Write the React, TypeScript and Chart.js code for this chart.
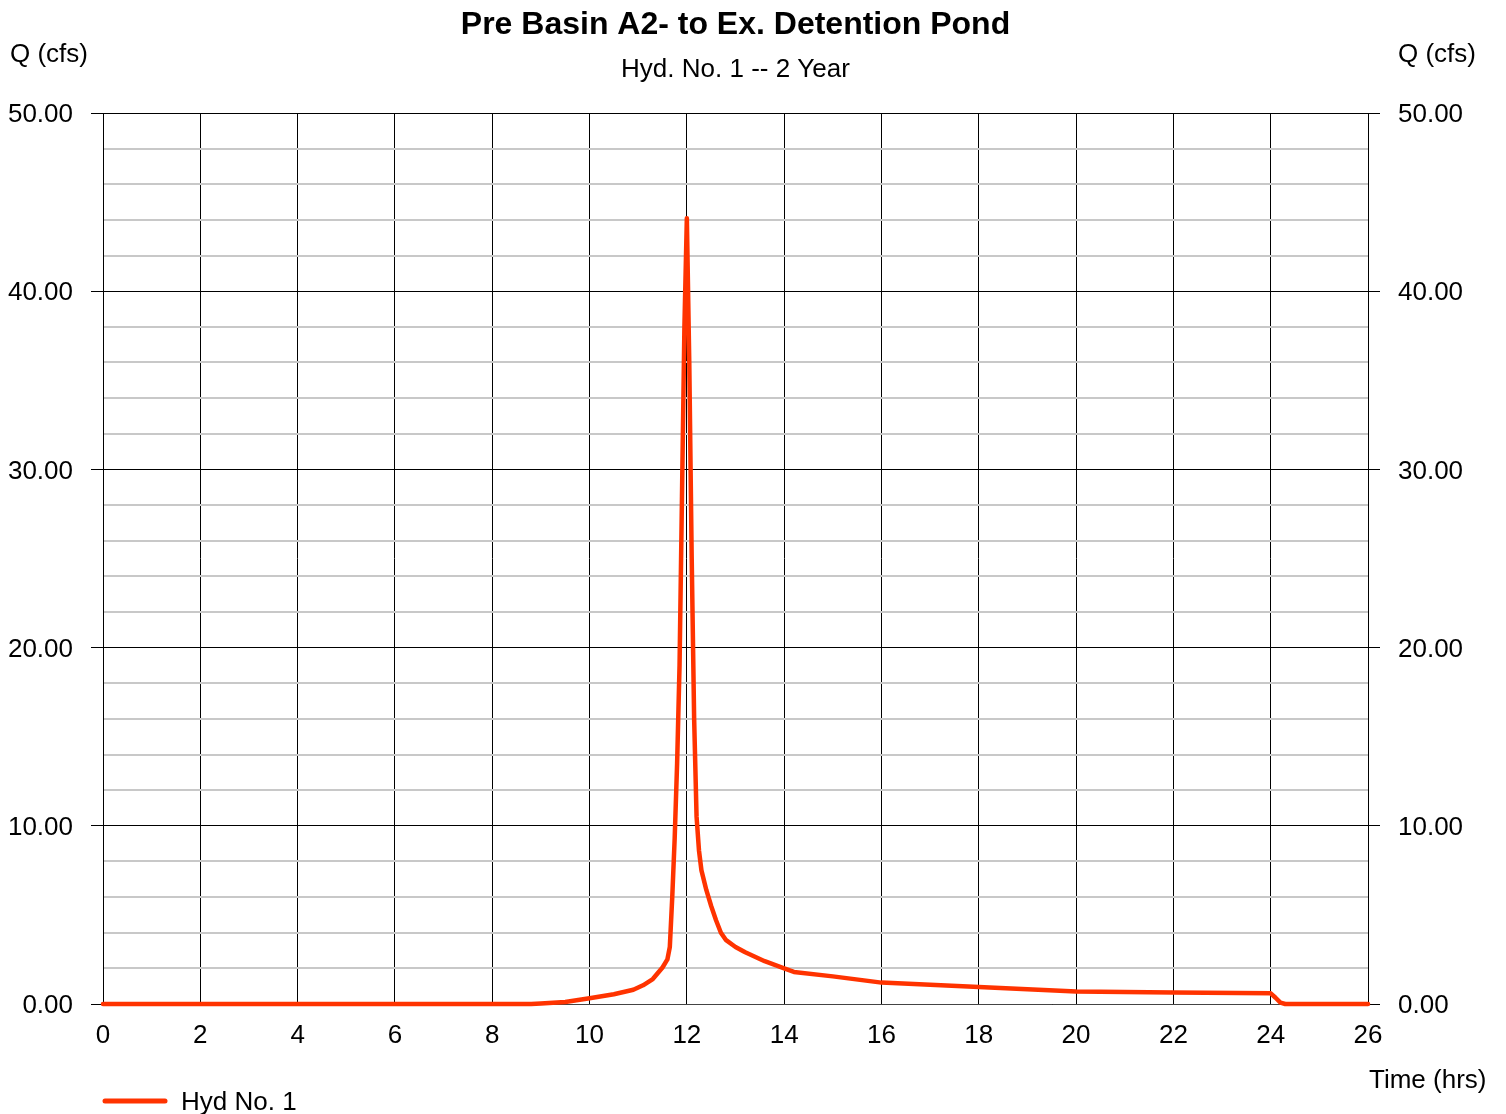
import React, { useEffect, useRef } from "react";
import { Chart, registerables } from "chart.js";

Chart.register(...registerables);

// Hydrograph: time (hrs) vs discharge Q (cfs)
const timeHrs = [
  0, 8.8, 9.0, 9.5, 10.0, 10.5, 10.9, 11.1, 11.3, 11.5, 11.6, 11.65, 11.7, 11.75,
  11.8, 11.85, 11.9, 11.95, 12.0, 12.05, 12.1, 12.15, 12.2, 12.25, 12.3, 12.4,
  12.5, 12.6, 12.7, 12.8, 13.0, 13.2, 13.6, 14.0, 14.2, 15.0, 16.0, 17.0, 18.0,
  19.0, 20.0, 22.0, 24.0, 24.1, 24.2, 24.3, 26.0,
];
const flowCfs = [
  0, 0, 0.03, 0.11, 0.32, 0.55, 0.8, 1.05, 1.4, 2.05, 2.5, 3.2, 6.0, 9.3,
  13.5, 19.0, 28.5, 38.0, 44.1, 36.0, 25.0, 16.0, 10.5, 8.6, 7.5, 6.4,
  5.5, 4.7, 4.0, 3.6, 3.2, 2.9, 2.4, 2.0, 1.8, 1.55, 1.2, 1.08, 0.96,
  0.83, 0.7, 0.65, 0.6, 0.35, 0.08, 0, 0,
];

const xTicks = [0, 2, 4, 6, 8, 10, 12, 14, 16, 18, 20, 22, 24, 26];
const yTicks = [
  0, 2, 4, 6, 8, 10, 12, 14, 16, 18, 20, 22, 24, 26, 28, 30, 32, 34, 36, 38, 40,
  42, 44, 46, 48, 50,
];
const yMajorStep = 10;

const titleText = "Pre Basin A2- to Ex. Detention Pond";
const subtitleText = "Hyd. No. 1 -- 2 Year";
const yAxisTitle = "Q (cfs)";
const xAxisTitle = "Time (hrs)";
const seriesLabel = "Hyd No. 1";

const FONT = '"Liberation Sans", Arial, Helvetica, sans-serif';
const LINE_COLOR = "#ff3300";

const isMajor = (v: number) => Math.abs(v % yMajorStep) < 1e-9;

const annotations = {
  id: "hydroText",
  afterDraw(chart: any) {
    const { ctx, chartArea } = chart;
    const cx = (chartArea.left + chartArea.right) / 2;
    ctx.save();
    ctx.fillStyle = "#000";
    ctx.textBaseline = "alphabetic";

    ctx.font = `bold 32px ${FONT}`;
    ctx.textAlign = "center";
    ctx.fillText(titleText, cx, 34);

    ctx.font = `26px ${FONT}`;
    ctx.fillText(subtitleText, cx, 77);

    ctx.textAlign = "left";
    ctx.fillText(yAxisTitle, 10, 62);
    ctx.fillText(yAxisTitle, 1398, 62);
    ctx.fillText(xAxisTitle, 1369, 1088);

    // legend entry
    ctx.strokeStyle = LINE_COLOR;
    ctx.lineWidth = 5;
    ctx.lineCap = "round";
    ctx.beginPath();
    ctx.moveTo(chartArea.left + 2, 1101);
    ctx.lineTo(chartArea.left + 62, 1101);
    ctx.stroke();
    ctx.fillText(seriesLabel, 181, 1110);
    ctx.restore();
  },
};

export default function App() {
  const ref = useRef<HTMLCanvasElement | null>(null);

  useEffect(() => {
    if (!ref.current) return;
    const points = timeHrs.map((t, i) => ({ x: t, y: flowCfs[i] }));
    const yTickSetup = (scale: any) => {
      scale.ticks = yTicks.map((v) => ({ value: v }));
    };
    const yLabel = (v: any) => (isMajor(Number(v)) ? Number(v).toFixed(2) : "");
    const gridColor = (c: any) => (isMajor(c.tick.value) ? "#000" : "#c8c8c8");
    const gridWidth = (c: any) => (isMajor(c.tick.value) ? 1 : 2);
    const tickColor = (c: any) => (isMajor(c.tick.value) ? "#000" : "rgba(0,0,0,0)");

    const chart = new Chart(ref.current, {
      type: "line",
      data: {
        datasets: [
          {
            label: seriesLabel,
            data: points,
            borderColor: LINE_COLOR,
            backgroundColor: LINE_COLOR,
            borderWidth: 4.5,
            pointRadius: 0,
            tension: 0,
            borderJoinStyle: "round",
            borderCapStyle: "round",
            clip: 6,
          } as any,
        ],
      },
      options: {
        animation: false,
        responsive: false,
        layout: { padding: { top: 113, left: 0, right: 0, bottom: 0 } },
        plugins: {
          legend: { display: false },
          title: { display: false },
          tooltip: { enabled: false },
        },
        scales: {
          x: {
            type: "linear",
            min: 0,
            max: 26,
            afterBuildTicks: (scale: any) => {
              scale.ticks = xTicks.map((v) => ({ value: v }));
            },
            afterFit: (scale: any) => {
              scale.height = 110;
            },
            grid: { color: "#000", lineWidth: 1, drawTicks: false },
            border: { display: true, color: "#444", width: 1 },
            ticks: {
              padding: 16,
              color: "#000",
              font: { family: FONT, size: 26 },
              maxRotation: 0,
              autoSkip: false,
              callback: (v: any) => String(v),
            },
          },
          y: {
            type: "linear",
            position: "left",
            min: 0,
            max: 50,
            afterBuildTicks: yTickSetup,
            afterFit: (scale: any) => {
              scale.width = 103;
            },
            grid: {
              color: gridColor,
              lineWidth: gridWidth,
              tickColor: tickColor,
              tickLength: 12,
              tickWidth: 1,
            } as any,
            border: { display: true, color: "#000", width: 1 },
            ticks: {
              padding: 18,
              labelOffset: 2,
              color: "#000",
              font: { family: FONT, size: 26 },
              autoSkip: false,
              callback: yLabel,
            },
          },
          y2: {
            type: "linear",
            position: "right",
            min: 0,
            max: 50,
            afterBuildTicks: yTickSetup,
            afterFit: (scale: any) => {
              scale.width = 138;
            },
            grid: {
              drawOnChartArea: false,
              tickColor: tickColor,
              tickLength: 12,
              tickWidth: 1,
            } as any,
            border: { display: true, color: "#000", width: 1 },
            ticks: {
              padding: 18,
              labelOffset: 2,
              color: "#000",
              font: { family: FONT, size: 26 },
              autoSkip: false,
              callback: yLabel,
            },
          },
        },
      },
      plugins: [annotations],
    });
    return () => chart.destroy();
  }, []);

  return (
    <div style={{ position: "fixed", left: 0, top: 0, width: 1506, height: 1114, background: "#fff" }}>
      <canvas ref={ref} width={1506} height={1114} style={{ display: "block" }} />
    </div>
  );
}
